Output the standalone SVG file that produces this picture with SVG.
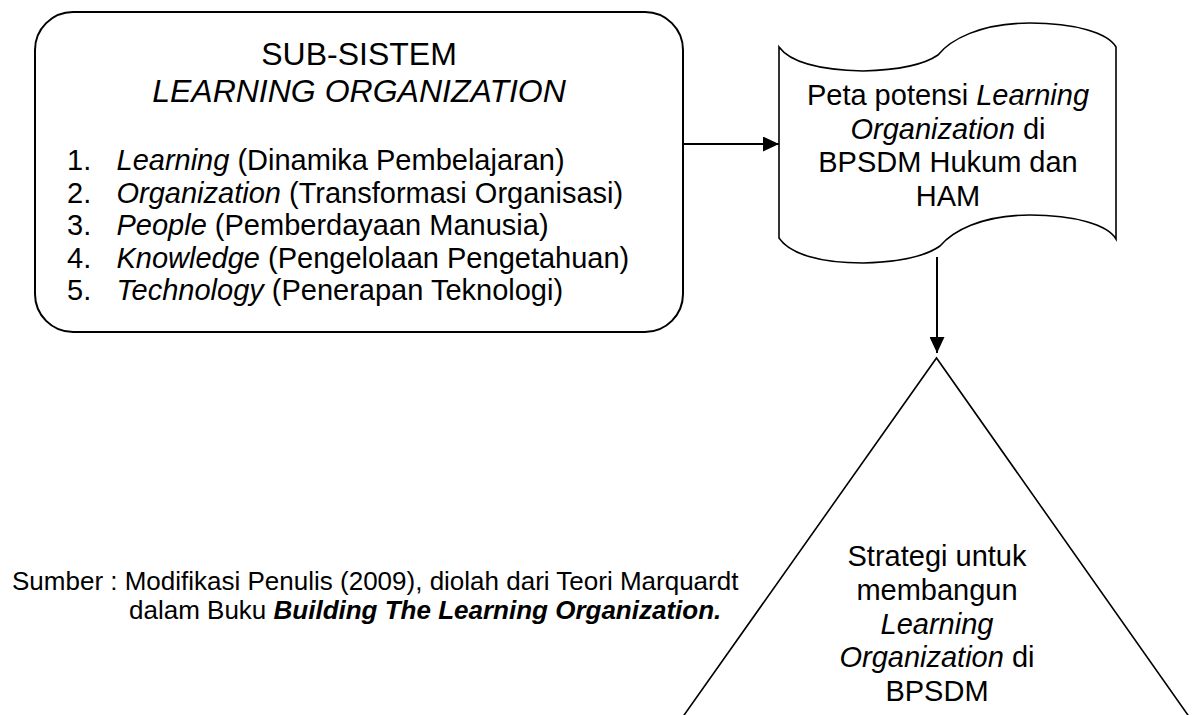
<svg xmlns="http://www.w3.org/2000/svg" width="1195" height="715" viewBox="0 0 1195 715">
<style>
text{font-family:"Liberation Sans",Arial,sans-serif;fill:#000}
.t{font-size:32px}
.l{font-size:29px}
.c{text-anchor:middle}
.i{font-style:italic}
.s{font-size:26px}
.bi{font-weight:bold;font-style:italic}
.shape{fill:#fff;stroke:#000}
.conn{stroke:#000;stroke-width:2;fill:none}
</style>
<defs>
<marker id="ah" markerUnits="userSpaceOnUse" markerWidth="16" markerHeight="15" refX="16" refY="7.5" orient="auto">
<path d="M0,0 L16,7.5 L0,15 Z" fill="#000"/>
</marker>
</defs>
<rect width="1195" height="715" fill="#fff"/>
<g id="subsistem">
<rect class="shape" x="35" y="12" width="648" height="320" rx="38" ry="38" stroke-width="2"/>
<text class="t c" x="359" y="65">SUB-SISTEM</text>
<text class="t c i" x="359" y="101.5">LEARNING ORGANIZATION</text>
<text class="l" x="67" y="170">1.</text>
<text class="l" x="116.5" y="170"><tspan class="i">Learning</tspan> (Dinamika Pembelajaran)</text>
<text class="l" x="67" y="202.5">2.</text>
<text class="l" x="116.5" y="202.5"><tspan class="i">Organization</tspan> (Transformasi Organisasi)</text>
<text class="l" x="67" y="235">3.</text>
<text class="l" x="116.5" y="235"><tspan class="i">People</tspan> (Pemberdayaan Manusia)</text>
<text class="l" x="67" y="267.5">4.</text>
<text class="l" x="116.5" y="267.5"><tspan class="i">Knowledge</tspan> (Pengelolaan Pengetahuan)</text>
<text class="l" x="67" y="300">5.</text>
<text class="l" x="116.5" y="300"><tspan class="i">Technology</tspan> (Penerapan Teknologi)</text>
</g>
<g id="peta">
<path class="shape" stroke-width="1.6" d="M779,47 C790,62 820,70 863,71 C900,70 925,64 938,55 C950,40 980,23 1030,23 C1075,23 1108,33 1116,47 L1116,239 C1108,225 1075,215 1030,215 C980,215 952,232 940,246 C926,256 900,262 863,263 C820,263 790,254 779,238 Z"/>
<text class="l c" x="948" y="105">Peta potensi <tspan class="i">Learning</tspan></text>
<text class="l c" x="948" y="138.5"><tspan class="i">Organization</tspan> di</text>
<text class="l c" x="948" y="172">BPSDM Hukum dan</text>
<text class="l c" x="948" y="205.5">HAM</text>
</g>
<g id="strategi">
<polyline class="shape" stroke-width="1.6" points="682,718 936.5,358 1190,718"/>
<text class="l c" x="937" y="566">Strategi untuk</text>
<text class="l c" x="937" y="600">membangun</text>
<text class="l c i" x="937" y="633.5">Learning</text>
<text class="l c" x="937" y="667"><tspan class="i">Organization</tspan> di</text>
<text class="l c" x="937" y="701">BPSDM</text>
</g>
<g id="sumber">
<text class="s" x="12" y="590">Sumber : Modifikasi Penulis (2009), diolah dari Teori Marquardt</text>
<text class="s" x="129" y="619">dalam Buku <tspan class="bi">Building The Learning Organization.</tspan></text>
</g>
<g id="connectors">
<line class="conn" x1="683" y1="144" x2="779" y2="144" marker-end="url(#ah)"/>
<line class="conn" x1="937" y1="257" x2="937" y2="353" marker-end="url(#ah)"/>
</g>
</svg>
